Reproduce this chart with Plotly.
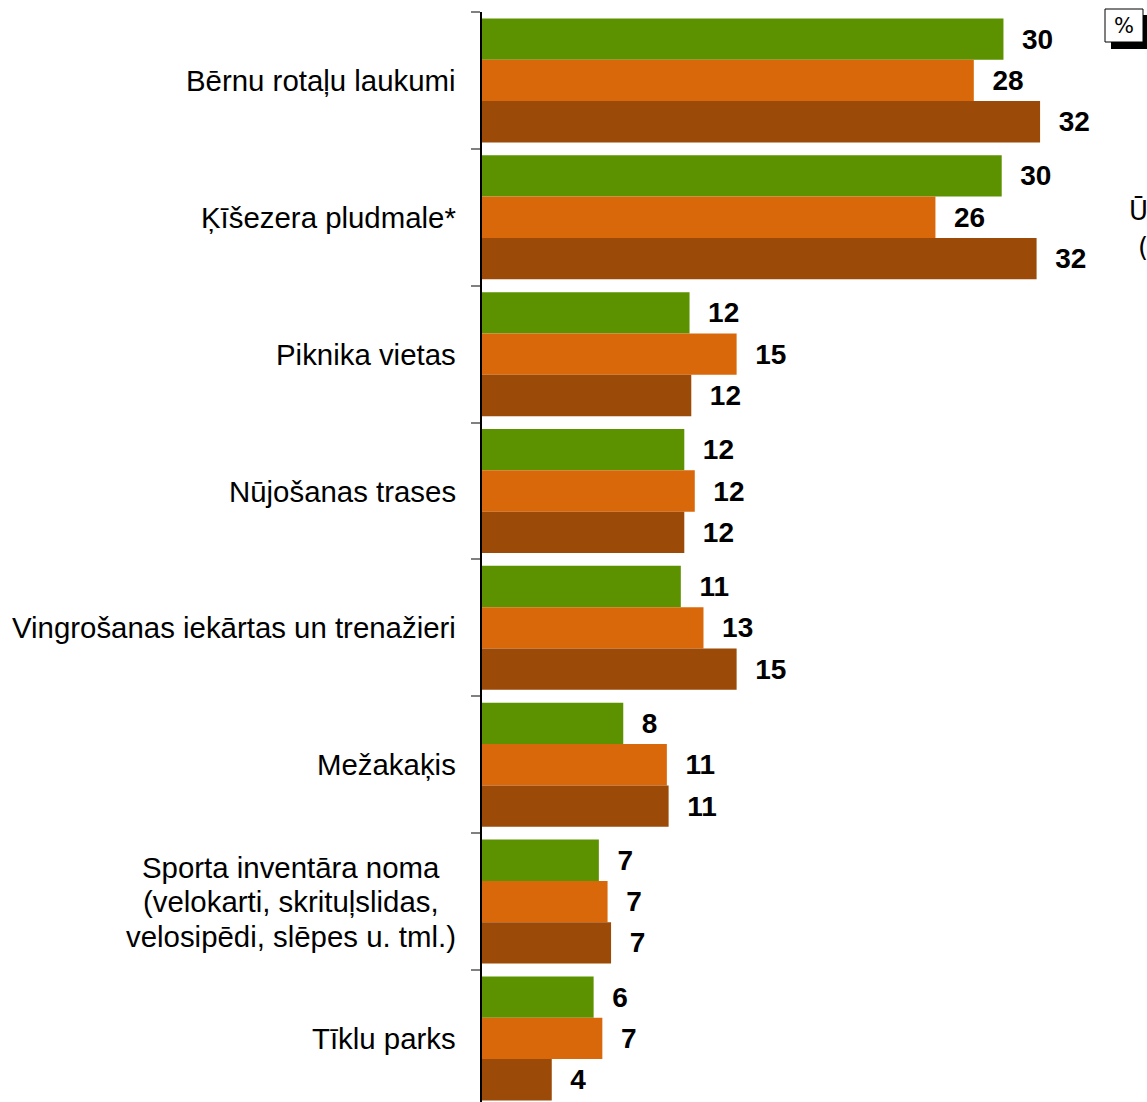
import plotly.graph_objects as go

categories = [
    "Bērnu rotaļu laukumi",
    "Ķīšezera pludmale*",
    "Piknika vietas",
    "Nūjošanas trases",
    "Vingrošanas iekārtas un trenažieri",
    "Mežakaķis",
    "Sporta inventāra noma<br>(velokarti, skrituļslidas,<br>velosipēdi, slēpes u. tml.)",
    "Tīklu parks",
]
series_names = ["1. grupa", "2. grupa", "3. grupa"]
values_green = [29.9, 29.8, 11.9, 11.6, 11.4, 8.1, 6.7, 6.4]
values_orange = [28.2, 26.0, 14.6, 12.2, 12.7, 10.6, 7.2, 6.9]
values_brown = [32.0, 31.8, 12.0, 11.6, 14.6, 10.7, 7.4, 4.0]
colors = ["#5c9100", "#d9680a", "#9b4a07"]

W, H = 1147, 1102
ML, MR, MT, MB = 482, 0, 12, 0
PW, PH = W - ML - MR, H - MT - MB
UNIT = 17.44
BAND = 136.86

def px(x):
    return (x - ML) / PW

def py(y):
    return 1 - (y - MT) / PH

fig = go.Figure()
for name, vals, col in zip(series_names, [values_green, values_orange, values_brown], colors):
    fig.add_trace(go.Bar(
        y=categories, x=vals, name=name, orientation="h",
        marker=dict(color=col, line=dict(width=0)),
        texttemplate="\u00a0\u00a0%{x:.0f}",
        textposition="outside",
        textfont=dict(family="Liberation Sans", size=28, color="black", weight="bold"),
        cliponaxis=False,
        constraintext="none",
        showlegend=False,
    ))

annotations = []
LINE_H = 34.5
for c in categories:
    lines = c.split("<br>")
    if len(lines) == 1:
        annotations.append(dict(
            x=0, xref="paper", y=c, yref="y", xanchor="right", yanchor="middle",
            xshift=-24, text=c, showarrow=False,
            font=dict(family="Liberation Sans", size=29.4, color="black"),
        ))
    else:
        mid = (len(lines) - 1) / 2
        for i, ln in enumerate(lines):
            annotations.append(dict(
                x=px(291), xref="paper", y=c, yref="y", xanchor="center", yanchor="middle",
                yshift=(mid - i) * LINE_H, text=ln, showarrow=False,
                font=dict(family="Liberation Sans", size=29.4, color="black"),
            ))

annotations.append(dict(
    x=px(1124), y=py(26), xref="paper", yref="paper", text="%", showarrow=False,
    xanchor="center", yanchor="middle",
    font=dict(family="DejaVu Sans", size=21, color="black"),
))
annotations.append(dict(
    x=px(1127), y=py(211), xref="paper", yref="paper", text="Ū", showarrow=False,
    xanchor="left", yanchor="middle",
    font=dict(family="DejaVu Sans", size=26, color="black"),
))
annotations.append(dict(
    x=px(1136), y=py(247), xref="paper", yref="paper", text="(", showarrow=False,
    xanchor="left", yanchor="middle",
    font=dict(family="DejaVu Sans", size=26, color="black"),
))

shapes = [
    dict(type="rect", xref="paper", yref="paper",
         x0=px(1111), x1=px(1150), y0=py(49), y1=py(15),
         fillcolor="black", line=dict(width=0)),
    dict(type="rect", xref="paper", yref="paper",
         x0=px(1105), x1=px(1143), y0=py(42), y1=py(9),
         fillcolor="white", line=dict(color="black", width=1)),
]

n_visible = PH / BAND

fig.update_layout(
    width=W, height=H,
    margin=dict(l=ML, r=MR, t=MT, b=MB, pad=0),
    barmode="group", bargap=0.094, bargroupgap=0,
    plot_bgcolor="white", paper_bgcolor="white",
    annotations=annotations, shapes=shapes,
    xaxis=dict(range=[0, PW / UNIT], visible=False, fixedrange=True),
    yaxis=dict(
        range=[-0.5 + n_visible, -0.5], showticklabels=False,
        showline=True, linecolor="black", linewidth=1.5,
        ticks="outside", tickson="boundaries", ticklen=9,
        tickcolor="#808080", tickwidth=2, showgrid=False, zeroline=False,
    ),
)

fig.write_html("out.html", config={"displayModeBar": False},
               post_script="document.body.style.margin='0';")
